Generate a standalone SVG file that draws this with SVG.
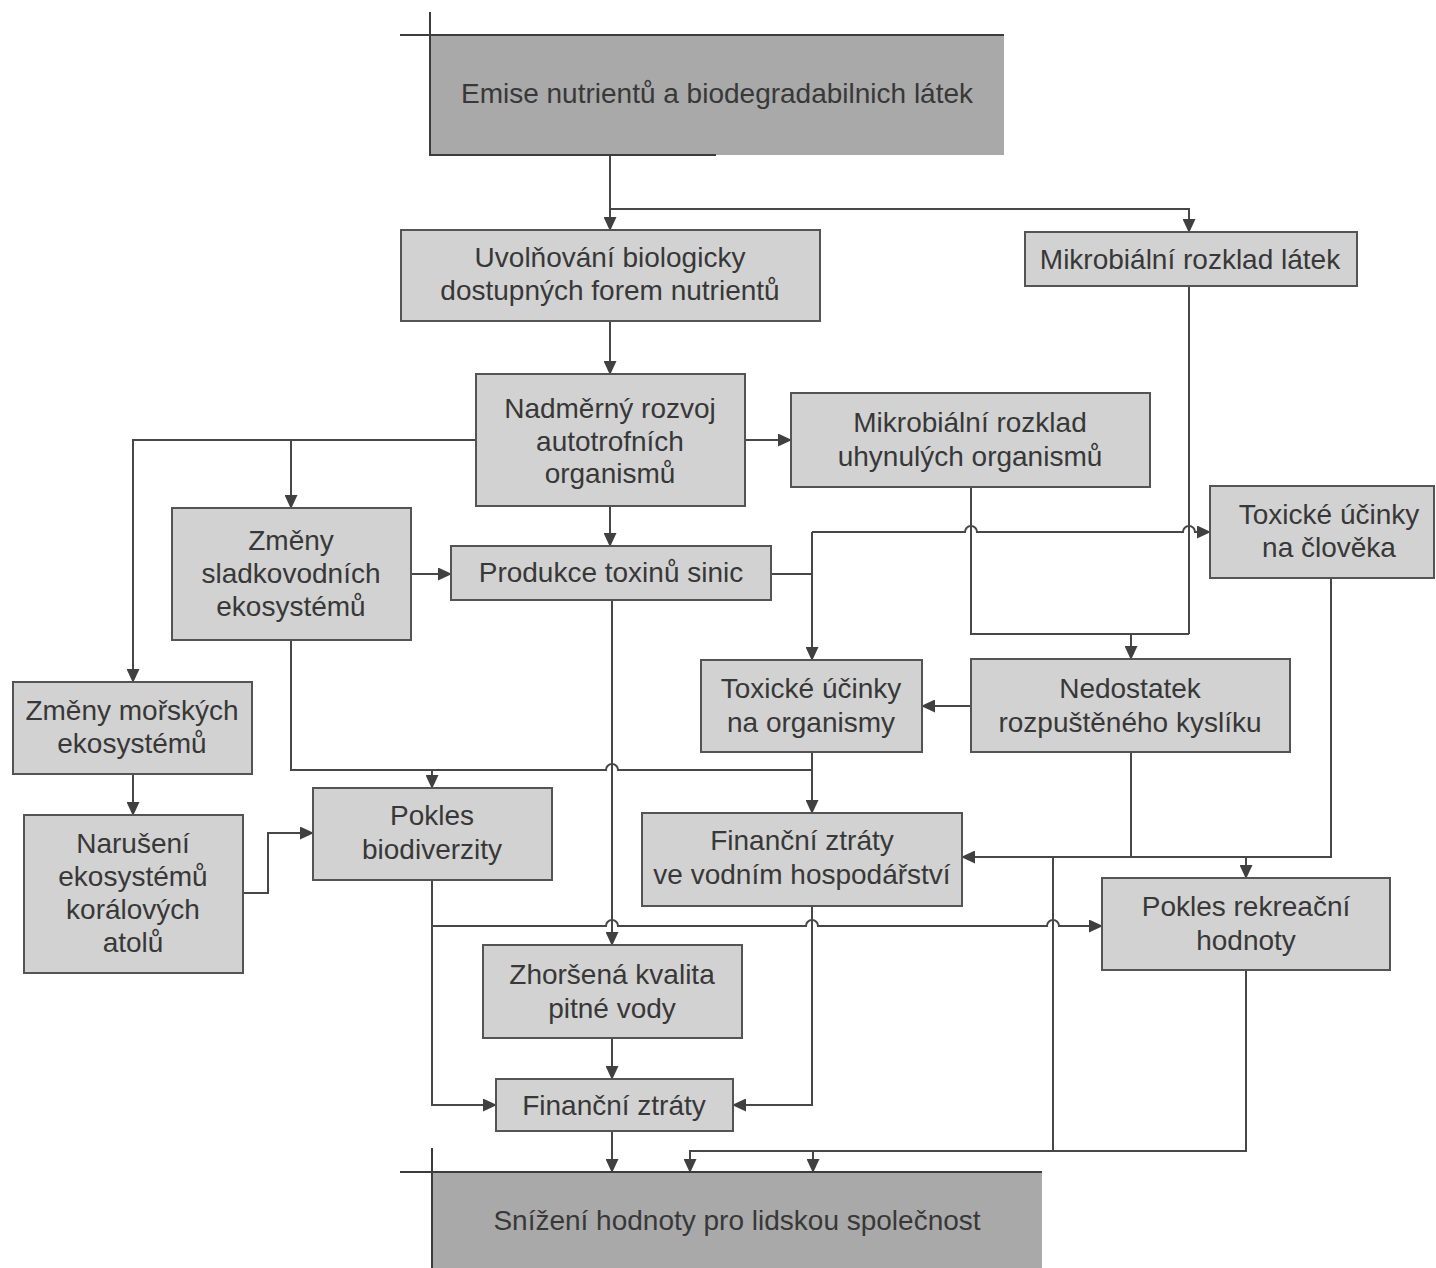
<svg xmlns="http://www.w3.org/2000/svg" width="1436" height="1268" viewBox="0 0 1436 1268">
<defs>
<style>
.box{fill:#d2d2d2;stroke:#545454;stroke-width:2}
.dark{fill:#a9a9a9;stroke:none}
.mark{stroke:#3c3c3c;stroke-width:2;fill:none}
.t{font-family:"Liberation Sans",Arial,sans-serif;font-size:28px;fill:#383838;text-anchor:middle}
.c{fill:none;stroke:#474747;stroke-width:2}
.a{marker-end:url(#arr)}
</style>
<marker id="arr" markerUnits="userSpaceOnUse" markerWidth="14" markerHeight="13" refX="13" refY="6.5" orient="auto">
<path d="M0,0 L14,6.5 L0,13 Z" fill="#404040"/>
</marker>
</defs>
<rect width="1436" height="1268" fill="#ffffff"/>

<g id="connectors">
<path class="c a" d="M610,155 V230"/>
<path class="c a" d="M610,209 H1189 V232"/>
<path class="c a" d="M610,321 V374"/>
<path class="c a" d="M476,440 H133 V682"/>
<path class="c a" d="M291,440 V508"/>
<path class="c a" d="M745,440 H791"/>
<path class="c a" d="M610,506 V546"/>
<path class="c a" d="M411,574 H451"/>
<path class="c" d="M771,574 H812"/>
<path class="c a" d="M812,532 V660"/>
<path class="c a" d="M812,532 H965 a6,6 0 0 1 12,0 H1183 a6,6 0 0 1 12,0 H1210"/>
<path class="c" d="M971,487 V634 H1189"/>
<path class="c" d="M1189,286 V634"/>
<path class="c a" d="M1131,634 V659"/>
<path class="c a" d="M971,706 H922"/>
<path class="c a" d="M133,774 V815"/>
<path class="c a" d="M243,893 H268 V833 H313"/>
<path class="c" d="M291,640 V770 H606 a6,6 0 0 1 12,0 H812"/>
<path class="c a" d="M432,770 V788"/>
<path class="c a" d="M812,752 V813"/>
<path class="c a" d="M612,600 V945"/>
<path class="c" d="M1131,752 V857"/>
<path class="c a" d="M1331,578 V857 H962"/>
<path class="c a" d="M1246,857 V878"/>
<path class="c" d="M1053,857 V1151"/>
<path class="c a" d="M432,880 V1105 H496"/>
<path class="c a" d="M432,926 H606 a6,6 0 0 1 12,0 H806 a6,6 0 0 1 12,0 H1047 a6,6 0 0 1 12,0 H1102"/>
<path class="c a" d="M812,906 V1105 H733"/>
<path class="c a" d="M612,1038 V1079"/>
<path class="c a" d="M612,1131 V1172"/>
<path class="c a" d="M1246,970 V1151 H690 V1172"/>
<path class="c a" d="M813,1151 V1172"/>
</g>

<g id="emise">
<rect class="dark" x="430" y="35" width="574" height="120"/>
<path class="mark" d="M400,35 H1004 M430,12 V155 H716"/>
<text class="t" x="717" y="103">Emise nutrientů a biodegradabilnich látek</text>
</g>

<g id="uvolnovani">
<rect class="box" x="401" y="230" width="419" height="91"/>
<text class="t" x="610" y="267">Uvolňování biologicky</text>
<text class="t" x="610" y="300">dostupných forem nutrientů</text>
</g>

<g id="mikrobialni-latek">
<rect class="box" x="1025" y="232" width="332" height="54"/>
<text class="t" x="1190" y="269">Mikrobiální rozklad látek</text>
</g>

<g id="nadmerny">
<rect class="box" x="476" y="374" width="269" height="132"/>
<text class="t" x="610" y="418">Nadměrný rozvoj</text>
<text class="t" x="610" y="451">autotrofních</text>
<text class="t" x="610" y="483">organismů</text>
</g>

<g id="mikrobialni-uhynulych">
<rect class="box" x="791" y="393" width="359" height="94"/>
<text class="t" x="970" y="432">Mikrobiální rozklad</text>
<text class="t" x="970" y="466">uhynulých organismů</text>
</g>

<g id="zmeny-sladkovodnich">
<rect class="box" x="172" y="508" width="239" height="132"/>
<text class="t" x="291" y="550">Změny</text>
<text class="t" x="291" y="583">sladkovodních</text>
<text class="t" x="291" y="616">ekosystémů</text>
</g>

<g id="produkce">
<rect class="box" x="451" y="546" width="320" height="54"/>
<text class="t" x="611" y="582">Produkce toxinů sinic</text>
</g>

<g id="toxicke-clovek">
<rect class="box" x="1210" y="486" width="224" height="92"/>
<text class="t" x="1329" y="524">Toxické účinky</text>
<text class="t" x="1329" y="557">na člověka</text>
</g>

<g id="zmeny-morskych">
<rect class="box" x="13" y="682" width="239" height="92"/>
<text class="t" x="132" y="720">Změny mořských</text>
<text class="t" x="132" y="753">ekosystémů</text>
</g>

<g id="toxicke-organismy">
<rect class="box" x="701" y="660" width="221" height="92"/>
<text class="t" x="811" y="698">Toxické účinky</text>
<text class="t" x="811" y="732">na organismy</text>
</g>

<g id="nedostatek">
<rect class="box" x="971" y="659" width="319" height="93"/>
<text class="t" x="1130" y="698">Nedostatek</text>
<text class="t" x="1130" y="732">rozpuštěného kyslíku</text>
</g>

<g id="naruseni">
<rect class="box" x="24" y="815" width="219" height="158"/>
<text class="t" x="133" y="853">Narušení</text>
<text class="t" x="133" y="886">ekosystémů</text>
<text class="t" x="133" y="919">korálových</text>
<text class="t" x="133" y="952">atolů</text>
</g>

<g id="pokles-biodiverzity">
<rect class="box" x="313" y="788" width="239" height="92"/>
<text class="t" x="432" y="825">Pokles</text>
<text class="t" x="432" y="859">biodiverzity</text>
</g>

<g id="financni-vodni">
<rect class="box" x="642" y="813" width="320" height="93"/>
<text class="t" x="802" y="850">Finanční ztráty</text>
<text class="t" x="802" y="884">ve vodním hospodářství</text>
</g>

<g id="pokles-rekreacni">
<rect class="box" x="1102" y="878" width="288" height="92"/>
<text class="t" x="1246" y="916">Pokles rekreační</text>
<text class="t" x="1246" y="950">hodnoty</text>
</g>

<g id="zhorsena">
<rect class="box" x="483" y="945" width="259" height="93"/>
<text class="t" x="612" y="984">Zhoršená kvalita</text>
<text class="t" x="612" y="1018">pitné vody</text>
</g>

<g id="financni-ztraty">
<rect class="box" x="496" y="1079" width="237" height="52"/>
<text class="t" x="614" y="1115">Finanční ztráty</text>
</g>

<g id="snizeni">
<rect class="dark" x="432" y="1172" width="610" height="96"/>
<path class="mark" d="M400,1172 H1042 M432,1148 V1268"/>
<text class="t" x="737" y="1230">Snížení hodnoty pro lidskou společnost</text>
</g>
</svg>
